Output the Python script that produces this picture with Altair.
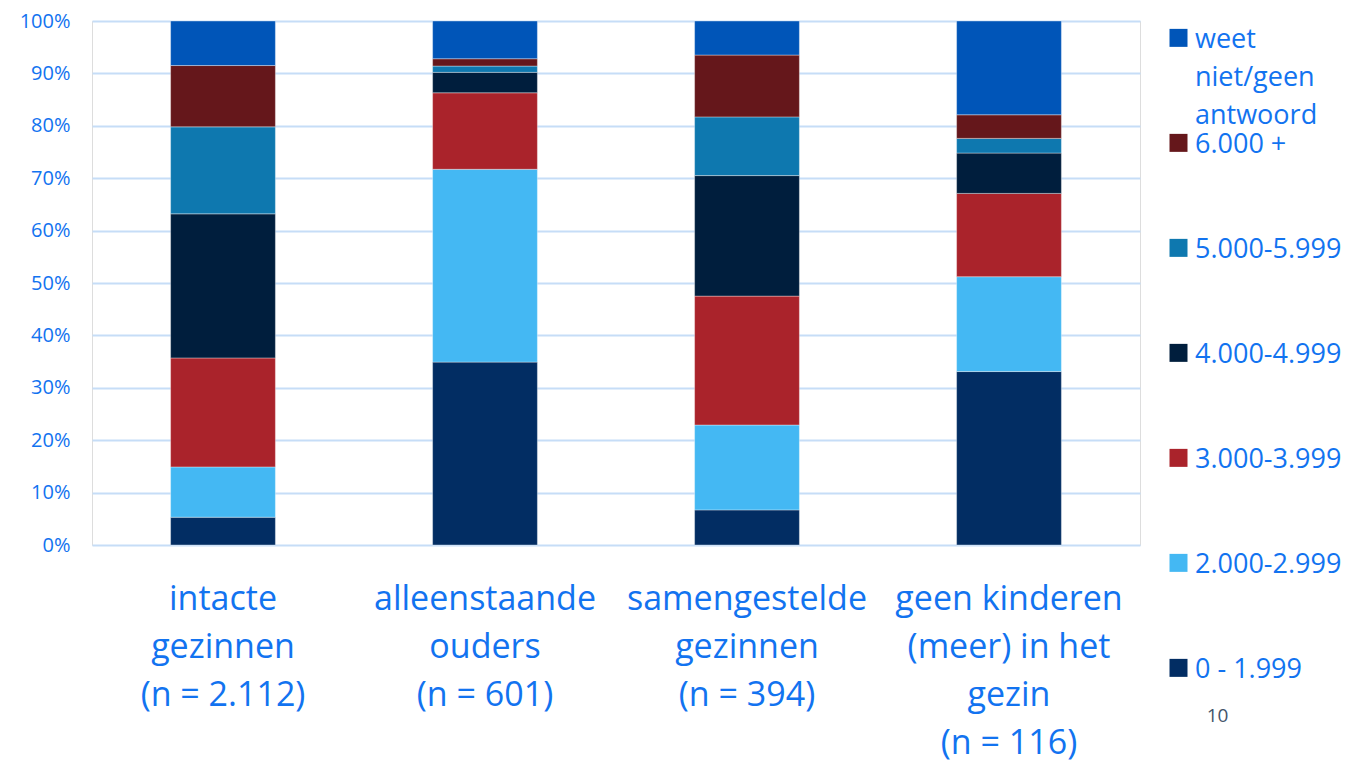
import altair as alt
import pandas as pd

groups = [
    "intacte\ngezinnen\n(n = 2.112)",
    "alleenstaande\nouders\n(n = 601)",
    "samengestelde\ngezinnen\n(n = 394)",
    "geen kinderen\n(meer) in het\ngezin\n(n = 116)",
]
# income brackets, bottom of stack first
brackets = [
    "0 - 1.999",
    "2.000-2.999",
    "3.000-3.999",
    "4.000-4.999",
    "5.000-5.999",
    "6.000 +",
    "weet\nniet/geen\nantwoord",
]
colors = ["#022D63", "#44B8F3", "#AA232B", "#001E3D", "#0E78AF", "#65171B", "#0055B8"]

intacte = [5.3, 9.6, 20.8, 27.5, 16.6, 11.7, 8.5]
alleenstaande = [34.9, 36.8, 14.6, 3.9, 1.2, 1.4, 7.2]
samengestelde = [6.7, 16.2, 24.6, 23.0, 11.2, 11.8, 6.5]
geen_kinderen = [33.1, 18.1, 15.9, 7.7, 2.8, 4.5, 17.9]

y_ticks = [0, 10, 20, 30, 40, 50, 60, 70, 80, 90, 100]
page_number = "10"

rows = []
for g, vals in zip(groups, [intacte, alleenstaande, samengestelde, geen_kinderen]):
    for i, (b, v) in enumerate(zip(brackets, vals)):
        rows.append({"groep": g, "inkomen": b, "pct": v, "volgorde": i})
df = pd.DataFrame(rows)

BLUE = "#1273F0"
FONT = "Open Sans"

chart = (
    alt.Chart(df)
    .mark_bar(stroke="#ffffff", strokeWidth=0.6, strokeOpacity=0.6)
    .encode(
        x=alt.X(
            "groep:N",
            sort=groups,
            scale=alt.Scale(paddingInner=0.6, paddingOuter=0.3),
            axis=alt.Axis(
                title=page_number,
                titleX=1125,
                titleY=170,
                titleAlign="center",
                titleBaseline="middle",
                titleFont=FONT,
                titleFontSize=19,
                titleFontWeight="normal",
                titleColor="#44546A",
                labelAngle=0,
                labelExpr="split(datum.label, '\\n')",
                labelFont=FONT,
                labelFontSize=34,
                labelColor=BLUE,
                labelLineHeight=48,
                labelPadding=37,
                labelBaseline="top",
                labelLimit=400,
                ticks=False,
                domain=False,
            ),
        ),
        y=alt.Y(
            "pct:Q",
            stack="zero",
            scale=alt.Scale(domain=[0, 100], nice=False),
            axis=alt.Axis(
                title=None,
                values=y_ticks,
                labelExpr="datum.value + '%'",
                labelFont=FONT,
                labelFontSize=20,
                labelColor=BLUE,
                labelPadding=22,
                ticks=False,
                domain=False,
                grid=True,
                gridColor="#C6DDF7",
                gridWidth=2,
            ),
        ),
        color=alt.Color(
            "inkomen:N",
            scale=alt.Scale(domain=brackets[::-1], range=colors[::-1]),
            legend=alt.Legend(
                title=None,
                orient="none",
                legendX=1073,
                legendY=13,
                direction="vertical",
                labelExpr="split(datum.label, '\\n')",
                labelFont=FONT,
                labelFontSize=27,
                labelColor=BLUE,
                labelBaseline="alphabetic",
                labelOffset=3,
                labelLimit=300,
                symbolType="M-1,-2.07H1V-0.07H-1Z",
                symbolSize=324,
                symbolStrokeWidth=0,
                symbolOpacity=1,
                gridAlign="all",
                rowPadding=1,
            ),
        ),
        order=alt.Order("volgorde:Q", sort="ascending"),
        tooltip=["groep:N", "inkomen:N", "pct:Q"],
    )
    .properties(width=1048, height=524, padding={"left": 11, "top": 3, "right": 5, "bottom": 5})
    .configure_view(stroke=None)
    .configure(style={"guide-label": {"lineHeight": 38}})
)

chart.save("out.html", embed_options={"renderer": "svg", "actions": False})
